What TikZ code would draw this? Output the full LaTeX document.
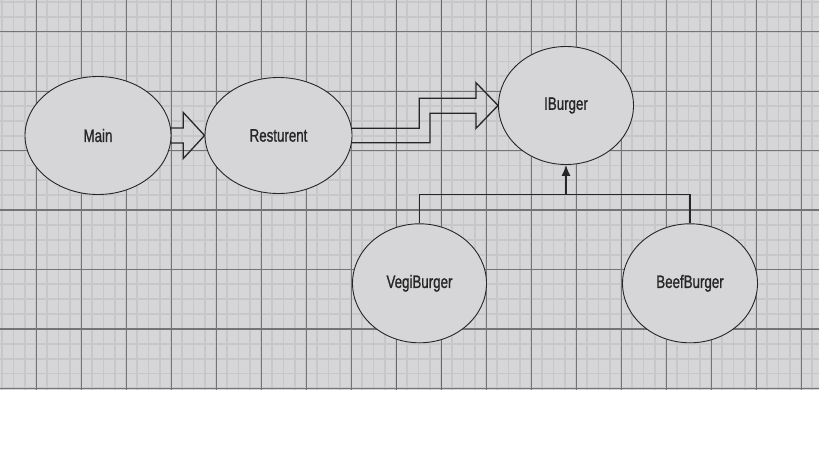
\documentclass[tikz,border=0pt]{standalone}
\usepackage{fontspec}
\setmainfont{Liberation Sans}
\newfontfamily\lblfont[FakeBold=1.2]{Liberation Sans}
\usepackage{graphicx}
\usetikzlibrary{shapes.geometric,arrows.meta,calc}
\definecolor{bg}{HTML}{D6D6D8}
\definecolor{minorc}{HTML}{C7C7C9}
\definecolor{majorc}{HTML}{747476}
\definecolor{ink}{HTML}{262626}
\tikzset{
  classnode/.style={ellipse, draw=ink, line width=0.9pt, fill=bg, inner sep=0pt,
    font=\lblfont\fontsize{18}{20}\selectfont, text=ink},
  hollow/.style={draw=ink, line width=1.3pt, line join=miter},
  conn/.style={draw=ink, line width=1.3pt},
  minorline/.style={draw=minorc, line width=1.8pt},
  majorline/.style={draw=majorc, line width=0.9pt},
  heavyline/.style={draw=majorc!90!black, line width=1.3pt},
}
\newcommand{\lbl}[1]{\scalebox{0.74}[1]{#1}}
\begin{document}
\begin{tikzpicture}[x=1pt,y=-1pt]
\useasboundingbox (0,0) rectangle (819,460);
\fill[bg] (0,0) rectangle (819,390);
% grid
\foreach \i in {0,...,72} {\draw[minorline] ({2.25+11.25*\i},0) -- ({2.25+11.25*\i},390);}
\foreach \i in {0,...,26} {\draw[minorline] (0,{2.0+14.86*\i}) -- (819,{2.0+14.86*\i});}
\foreach \k in {0,...,17} {\draw[majorline] ({36+45*\k},0) -- ({36+45*\k},390);}
\foreach \k in {0,...,6} {\draw[majorline, line width=1.3pt] (0,{31.7+59.45*\k}) -- (819,{31.7+59.45*\k});}
\draw[heavyline] (396.7,0) -- (396.7,390);
\draw[heavyline] (441.7,0) -- (441.7,390);
% nodes
\node[classnode, minimum width=146pt, minimum height=118pt] (main) at (98,135.5) {\lbl{Main}};
\node[classnode, minimum width=147pt, minimum height=116pt] (res) at (278.5,135.5) {\lbl{Resturent}};
\node[classnode, minimum width=135pt, minimum height=118pt] (ibg) at (566,105.5) {\lbl{IBurger}};
\node[classnode, minimum width=134pt, minimum height=119pt] (veg) at (419.5,283.3) {\lbl{VegiBurger}};
\node[classnode, minimum width=135pt, minimum height=119pt] (beef) at (690,283.3) {\lbl{BeefBurger}};
% hollow arrow Main -> Resturent
\draw[hollow] ($(main.east)+(-1,-7.5)$) -- (183.3,128) -- (183.3,112.5) -- (res.west)
  -- (183.3,158.5) -- (183.3,143) -- ($(main.east)+(-1,7.5)$);
% stepped hollow arrow Resturent -> IBurger
\draw[hollow] ($(res.east)+(-1,-7.2)$) -- (419.3,128.3) -- (419.3,98.3) -- (476,98.3)
  -- (476,82.7) -- (ibg.west) -- (476,128.3) -- (476,113.3) -- (430,113.3)
  -- (430,142.7) -- ($(res.east)+(-1,7.2)$);
% inheritance
\coordinate (bar) at (0,194.3);
\draw[conn] (veg.north) -- (veg.north |- bar) -- (beef.north |- bar) -- (beef.north);
\draw[conn, -{Latex[length=11pt,width=9pt]}] (ibg.south |- bar) -- (ibg.south);
\end{tikzpicture}
\end{document}
